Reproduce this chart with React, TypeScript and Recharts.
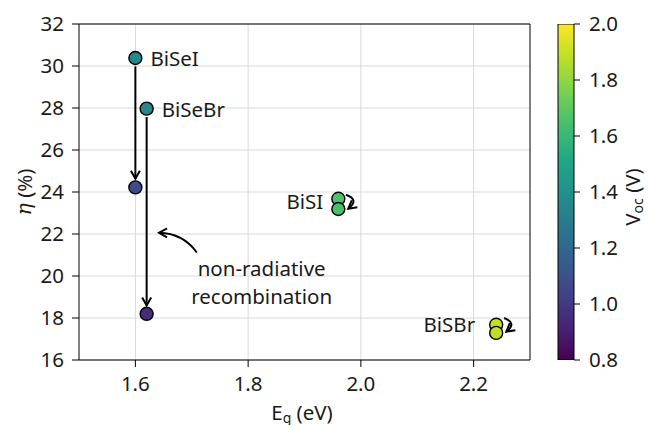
import React from 'react';
import {
  ScatterChart,
  Scatter,
  XAxis,
  YAxis,
  CartesianGrid,
  ReferenceLine,
  ReferenceDot,
  BarChart,
  Bar,
} from 'recharts';

// ---------- data ----------
const bandGaps = [1.6, 1.62, 1.6, 1.62, 1.96, 1.96, 2.24, 2.24];
const efficiencies = [30.38, 27.97, 24.22, 18.2, 23.68, 23.19, 17.68, 17.29];
const vocValues = [1.36, 1.35, 1.07, 0.95, 1.66, 1.65, 1.89, 1.88];

const labelNames = ['BiSeI', 'BiSeBr', 'BiSI', 'BiSBr'];
const labelX = [1.6, 1.62, 1.96, 2.24];
const labelY = [30.38, 27.97, 23.68, 17.68];

const xTicks = [1.6, 1.8, 2.0, 2.2];
const yTicks = [16, 18, 20, 22, 24, 26, 28, 30, 32];
const cbTicks = [0.8, 1.0, 1.2, 1.4, 1.6, 1.8, 2.0];

// arrows: start/end in data coordinates, rad = curvature
const arrowStartX = [1.6, 1.62, 1.709, 1.9735, 2.254];
const arrowStartY = [29.98, 27.57, 21.12, 23.87, 18.0];
const arrowEndX = [1.6, 1.62, 1.642, 1.9776, 2.258];
const arrowEndY = [24.63, 18.6, 22.06, 23.2, 17.35];
const arrowRad = [0, 0, 0.25, -0.9, -0.9];

const noteLines = ['non-radiative', 'recombination'];
const noteX = 1.824;
const noteY = 19.7;

// ---------- styling ----------
const FONT = "'Noto Sans', sans-serif";
const FS = 20.5;
const TXT = '#1a1a1a';
const labelStyle = [
  { dx: 15, dy: 0, anchor: 'start' },
  { dx: 15, dy: 0, anchor: 'start' },
  { dx: -15, dy: 2, anchor: 'end' },
  { dx: -21, dy: -1, anchor: 'end' },
];

const VIRIDIS = [
  '#440154', '#482475', '#414487', '#355f8d', '#2a788e', '#21918c',
  '#22a884', '#44bf70', '#7ad151', '#bddf26', '#fde725',
];
function hexToRgb(h: string) {
  return [parseInt(h.slice(1, 3), 16), parseInt(h.slice(3, 5), 16), parseInt(h.slice(5, 7), 16)];
}
function viridis(v: number) {
  let t = (v - 0.8) / 1.2;
  t = Math.max(0, Math.min(1, t));
  const p = t * 10;
  const i = Math.min(9, Math.floor(p));
  const f = p - i;
  const a = hexToRgb(VIRIDIS[i]);
  const b = hexToRgb(VIRIDIS[i + 1]);
  const c = a.map((av, k) => Math.round(av + (b[k] - av) * f));
  return `rgb(${c[0]},${c[1]},${c[2]})`;
}

const points = bandGaps.map((x, i) => ({ x, y: efficiencies[i], voc: vocValues[i] }));
const cbData = [{ name: 'cb', range: [cbTicks[0], cbTicks[cbTicks.length - 1]] }];

function arrowShape(rad: number) {
  return (p: any) => {
    const { x1, y1, x2, y2 } = p;
    const mx = (x1 + x2) / 2;
    const my = (y1 + y2) / 2;
    const dx = x2 - x1;
    const dy = y2 - y1;
    const cx = mx - rad * dy;
    const cy = my + rad * dx;
    let tx = x2 - cx;
    let ty = y2 - cy;
    if (rad === 0) {
      tx = dx;
      ty = dy;
    }
    const len = Math.hypot(tx, ty) || 1;
    const ux = tx / len;
    const uy = ty / len;
    const hl = 8;
    const hw = 4.5;
    const bx = x2 - ux * hl;
    const by = y2 - uy * hl;
    const lx = bx - uy * hw;
    const ly = by + ux * hw;
    const rx = bx + uy * hw;
    const ry = by - ux * hw;
    const d = rad === 0 ? `M${x1},${y1} L${x2},${y2}` : `M${x1},${y1} Q${cx},${cy} ${x2},${y2}`;
    return (
      <g>
        <path d={d} fill="none" stroke="#000" strokeWidth={2} />
        <path d={`M${lx},${ly} L${x2},${y2} L${rx},${ry}`} fill="none" stroke="#000" strokeWidth={2} />
      </g>
    );
  };
}

export default function App() {
  return (
    <div style={{ position: 'absolute', left: 0, top: 0, width: 648, height: 425, background: '#fff', fontFamily: FONT }}>
      <div style={{ position: 'absolute', left: 0, top: 0 }}>
        <ScatterChart width={540} height={425} margin={{ top: 24, right: 10, bottom: 25, left: 19 }}>
          <CartesianGrid stroke="#d9d9d9" strokeWidth={1} horizontalValues={yTicks} verticalValues={xTicks} />
          <XAxis
            type="number"
            dataKey="x"
            domain={[1.5, 2.3]}
            ticks={xTicks}
            tickFormatter={(v: number) => v.toFixed(1)}
            height={40}
            tickSize={7}
            tickMargin={9}
            stroke="#000"
            tick={{ fill: TXT, fontSize: FS, fontFamily: FONT }}
            allowDataOverflow
          />
          <YAxis
            type="number"
            dataKey="y"
            domain={[16, 32]}
            ticks={yTicks}
            width={60}
            tickSize={7}
            tickMargin={8}
            stroke="#000"
            tick={{ fill: TXT, fontSize: FS, fontFamily: FONT }}
            allowDataOverflow
          />
          <ReferenceLine x={2.3} stroke="#000" strokeWidth={1} />
          <ReferenceLine y={32} stroke="#000" strokeWidth={1} />
          {arrowStartX.map((x1, i) => (
            <ReferenceLine
              key={'a' + i}
              segment={[
                { x: x1, y: arrowStartY[i] },
                { x: arrowEndX[i], y: arrowEndY[i] },
              ]}
              shape={arrowShape(arrowRad[i])}
              ifOverflow="visible"
            />
          ))}
          <Scatter
            data={points}
            isAnimationActive={false}
            shape={(p: any) => (
              <circle cx={p.cx} cy={p.cy} r={6.5} fill={viridis(p.payload.voc)} stroke="#000" strokeWidth={1.4} />
            )}
          />
          {labelNames.map((name, i) => (
            <ReferenceDot
              key={'l' + i}
              x={labelX[i]}
              y={labelY[i]}
              r={0}
              ifOverflow="visible"
              shape={(p: any) => (
                <text
                  x={p.cx + labelStyle[i].dx}
                  y={p.cy + labelStyle[i].dy}
                  textAnchor={labelStyle[i].anchor as any}
                  dominantBaseline="central"
                  fontSize={FS}
                  fontFamily={FONT}
                  fill={TXT}
                >
                  {name}
                </text>
              )}
            />
          ))}
          <ReferenceDot
            x={noteX}
            y={noteY}
            r={0}
            ifOverflow="visible"
            shape={(p: any) => (
              <text textAnchor="middle" fontSize={FS} fontFamily={FONT} fill={TXT}>
                <tspan x={p.cx} y={p.cy - 14} dominantBaseline="central">{noteLines[0]}</tspan>
                <tspan x={p.cx} y={p.cy + 14} dominantBaseline="central">{noteLines[1]}</tspan>
              </text>
            )}
          />
        </ScatterChart>
      </div>
      {/* axis titles */}
      <svg width={648} height={425} style={{ position: 'absolute', left: 0, top: 0, pointerEvents: 'none' }}>
        <text x={302} y={412} textAnchor="middle" dominantBaseline="central" fontSize={FS} fontFamily={FONT} fill={TXT}>
          E<tspan fontSize={14} dy={5}>g</tspan>
          <tspan dy={-5}> (eV)</tspan>
        </text>
        <text
          transform="translate(24,192) rotate(-90)"
          textAnchor="middle"
          dominantBaseline="central"
          fontSize={FS}
          fontFamily={FONT}
          fill={TXT}
        >
          <tspan fontStyle="italic" fontFamily="'DejaVu Serif', serif">η</tspan> (%)
        </text>
        <text
          transform="translate(632,197) rotate(-90)"
          textAnchor="middle"
          dominantBaseline="central"
          fontSize={FS}
          fontFamily={FONT}
          fill={TXT}
        >
          V<tspan fontSize={14} dy={5}>oc</tspan>
          <tspan dy={-5}> (V)</tspan>
        </text>
      </svg>
      {/* colorbar */}
      <div style={{ position: 'absolute', left: 540, top: 0 }}>
        <BarChart
          width={108}
          height={425}
          data={cbData}
          margin={{ top: 24, right: 14, bottom: 65, left: 18 }}
          barCategoryGap={0}
        >
          <defs>
            <linearGradient id="viridisGrad" x1="0" y1="1" x2="0" y2="0">
              {VIRIDIS.map((c, i) => (
                <stop key={i} offset={`${i * 10}%`} stopColor={c} />
              ))}
            </linearGradient>
          </defs>
          <XAxis dataKey="name" hide />
          <YAxis
            orientation="right"
            type="number"
            domain={[0.8, 2.0]}
            ticks={cbTicks}
            tickFormatter={(v: number) => v.toFixed(1)}
            width={60}
            tickSize={6}
            tickMargin={9}
            axisLine={false}
            stroke="#000"
            tick={{ fill: TXT, fontSize: FS, fontFamily: FONT }}
            allowDataOverflow
          />
          <Bar dataKey="range" fill="url(#viridisGrad)" stroke="#000" strokeWidth={1} isAnimationActive={false} />
        </BarChart>
      </div>
    </div>
  );
}
